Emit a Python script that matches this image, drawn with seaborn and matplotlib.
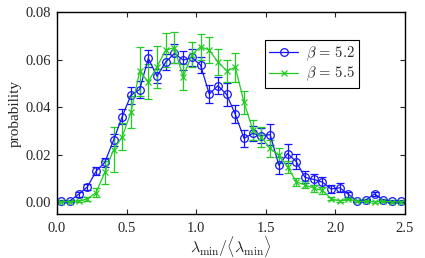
import numpy as np
import pandas as pd
import seaborn as sns
import matplotlib.pyplot as plt

# 横坐标：每个 bin 的中心
x_vals = [0.03125 + 0.0625 * i for i in range(40)]

# beta = 5.2 的概率和误差
p_52 = [0.0005, 0.0005, 0.0033, 0.0064, 0.0130, 0.0167, 0.0260, 0.0360, 0.0450, 0.0474,
        0.0605, 0.0530, 0.0590, 0.0626, 0.0598, 0.0609, 0.0577, 0.0455, 0.0490, 0.0453,
        0.0369, 0.0268, 0.0289, 0.0280, 0.0284, 0.0155, 0.0204, 0.0170, 0.0104, 0.0095,
        0.0084, 0.0055, 0.0060, 0.0032, 0.0005, 0.0008, 0.0034, 0.0008, 0.0005, 0.0005]
e_52 = [0.0005, 0.0005, 0.0010, 0.0012, 0.0018, 0.0020, 0.0025, 0.0030, 0.0035, 0.0035,
        0.0035, 0.0030, 0.0035, 0.0040, 0.0040, 0.0035, 0.0035, 0.0039, 0.0035, 0.0048,
        0.0038, 0.0035, 0.0030, 0.0032, 0.0045, 0.0035, 0.0040, 0.0032, 0.0025, 0.0025,
        0.0022, 0.0018, 0.0018, 0.0012, 0.0005, 0.0006, 0.0010, 0.0005, 0.0004, 0.0004]

# beta = 5.5 的概率和误差
p_55 = [0.0002, 0.0002, 0.0004, 0.0013, 0.0040, 0.0125, 0.0220, 0.0275, 0.0378, 0.0550,
        0.0507, 0.0570, 0.0640, 0.0650, 0.0527, 0.0620, 0.0654, 0.0640, 0.0590, 0.0553,
        0.0567, 0.0420, 0.0305, 0.0272, 0.0226, 0.0196, 0.0149, 0.0085, 0.0072, 0.0058,
        0.0049, 0.0014, 0.0005, 0.0013, 0.0003, 0.0003, 0.0001, 0.0003, 0.0001, 0.0000]
e_55 = [0.0003, 0.0003, 0.0005, 0.0010, 0.0018, 0.0049, 0.0095, 0.0056, 0.0068, 0.0105,
        0.0074, 0.0088, 0.0070, 0.0065, 0.0056, 0.0053, 0.0055, 0.0055, 0.0055, 0.0046,
        0.0060, 0.0049, 0.0042, 0.0042, 0.0035, 0.0030, 0.0025, 0.0018, 0.0015, 0.0014,
        0.0014, 0.0006, 0.0005, 0.0006, 0.0004, 0.0004, 0.0004, 0.0004, 0.0004, 0.0004]

labels = [r'$\beta\,=\,5.2$', r'$\beta\,=\,5.5$']
blue = '#1414ff'
green = '#22cc22'

sns.set_style('ticks')
plt.rcParams['font.family'] = ['Liberation Serif', 'DejaVu Serif']
plt.rcParams['mathtext.fontset'] = 'cm'

fig = plt.figure(figsize=(4.25, 2.58), dpi=100)
ax = fig.add_axes([0.134, 0.171, 0.819, 0.782])

# 误差棒
ax.errorbar(x_vals, p_52, yerr=e_52, fmt='none', ecolor=blue, elinewidth=0.9,
            capsize=2.8, capthick=0.9)
ax.errorbar(x_vals, p_55, yerr=e_55, fmt='none', ecolor=green, elinewidth=0.9,
            capsize=2.8, capthick=0.9)

# 折线和标记
sns.lineplot(x=x_vals, y=p_52, color=blue, marker='o', markersize=5.5,
             markerfacecolor='none', markeredgecolor=blue, markeredgewidth=0.9,
             linewidth=0.9, label=labels[0], ax=ax)
sns.lineplot(x=x_vals, y=p_55, color=green, marker='x', markersize=4.5,
             markeredgecolor=green, markeredgewidth=0.9,
             linewidth=0.9, label=labels[1], ax=ax)

ax.set_xlim(0, 2.5)
ax.set_ylim(-0.005, 0.08)
ax.set_xticks([0.0, 0.5, 1.0, 1.5, 2.0, 2.5])
ax.set_xticklabels(['0.0', '0.5', '1.0', '1.5', '2.0', '2.5'])
ax.set_yticks([0.0, 0.02, 0.04, 0.06, 0.08])
ax.set_yticklabels(['0.00', '0.02', '0.04', '0.06', '0.08'])
ax.tick_params(direction='in', top=True, right=True, labelsize=10.5, length=3.5,
               width=0.8)
ax.tick_params(axis='x', pad=6)
ax.tick_params(axis='y', pad=4)
for s in ax.spines.values():
    s.set_linewidth(1.0)
    s.set_color('black')

ax.set_xlabel(r'$\mathrm{\lambda_{min}}/\langle\mathrm{\lambda_{min}}\rangle$', fontsize=11.5, labelpad=-1)
ax.set_ylabel('probability', fontsize=11, labelpad=3)

leg = ax.legend(loc='upper right', bbox_to_anchor=(0.868, 0.862), borderaxespad=0,
                fancybox=False, edgecolor='black', fontsize=10.5,
                handlelength=2.0, borderpad=0.3, labelspacing=0.15, handletextpad=0.5)
leg.get_frame().set_linewidth(0.8)
leg.get_frame().set_alpha(1)

plt.savefig('out.png', dpi=100)
